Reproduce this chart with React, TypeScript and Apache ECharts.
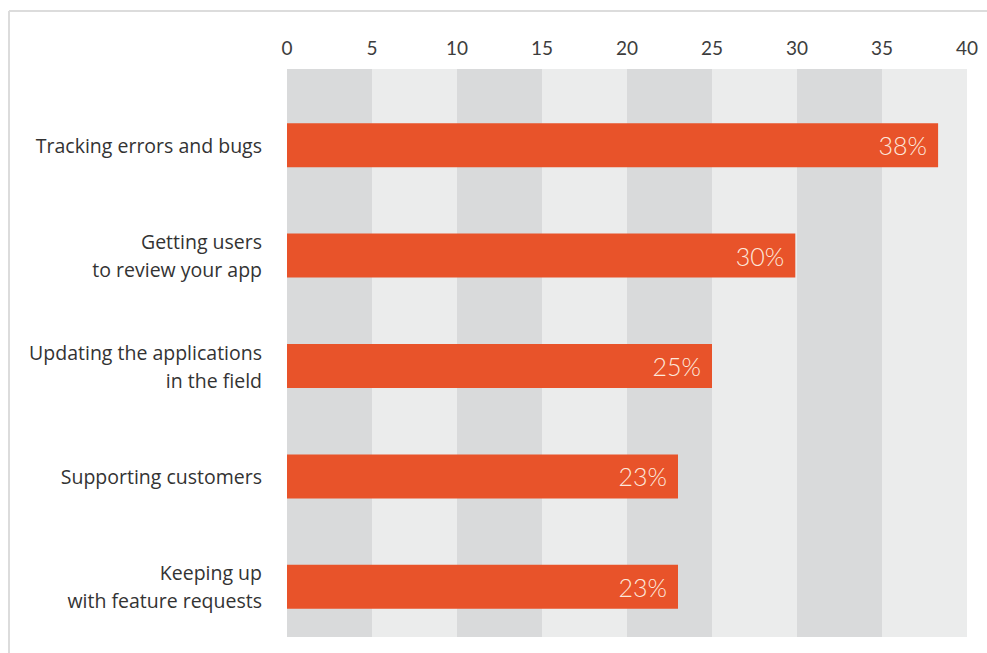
import React, { useEffect, useRef } from "react";
import * as echarts from "echarts";

const categories = [
  "Tracking errors and bugs",
  "Getting users\nto review your app",
  "Updating the applications\nin the field",
  "Supporting customers",
  "Keeping up\nwith feature requests",
];
const values = [38.3, 29.9, 25, 23, 23];
const tickMin = 0;
const tickMax = 40;
const tickStep = 5;

const FONT = "'Open Sans', Lato, sans-serif";
const NUMFONT = "Lato, 'Open Sans', sans-serif";

export default function App() {
  const ref = useRef<HTMLDivElement>(null);
  useEffect(() => {
    if (!ref.current) return;
    const chart = echarts.init(ref.current, undefined, { renderer: "svg" });
    chart.setOption({
      animation: false,
      backgroundColor: "#ffffff",
      textStyle: { fontFamily: FONT },
      graphic: [
        { type: "line", shape: { x1: 9, y1: 11, x2: 987, y2: 11 }, style: { stroke: "#dcdcdc", lineWidth: 2 } },
        { type: "line", shape: { x1: 9, y1: 11, x2: 9, y2: 653 }, style: { stroke: "#dcdcdc", lineWidth: 2 } },
      ],
      grid: [
        { left: 287, right: 20, top: 69, bottom: 16 },
        { left: 287, right: 20, top: 90, bottom: 11 },
      ],
      xAxis: [
        {
          type: "value",
          gridIndex: 0,
          position: "top",
          min: tickMin,
          max: tickMax,
          interval: tickStep,
          axisLine: { show: false },
          axisTick: { show: false },
          splitLine: { show: false },
          splitArea: { show: true, areaStyle: { color: ["#d9dadb", "#ebecec"] } },
          axisLabel: { fontSize: 19, color: "#3d3d3d", margin: 12, fontFamily: NUMFONT },
        },
        {
          type: "value",
          gridIndex: 1,
          min: tickMin,
          max: tickMax,
          show: false,
        },
      ],
      yAxis: [
        { type: "category", gridIndex: 0, data: categories, show: false },
        {
          type: "category",
          gridIndex: 1,
          data: categories,
          inverse: true,
          axisLine: { show: false },
          axisTick: { show: false },
          splitLine: { show: false },
          axisLabel: {
            fontSize: 19.5,
            color: "#333333",
            margin: 25,
            align: "right",
            lineHeight: 28,
            fontFamily: FONT,
            padding: [0, 0, 4, 0],
          },
        },
      ],
      series: [
        {
          type: "bar",
          xAxisIndex: 1,
          yAxisIndex: 1,
          data: values,
          barWidth: 44,
          itemStyle: { color: "#e8532a" },
          label: {
            show: true,
            position: "insideRight",
            distance: 11,
            color: "#fde8dc",
            fontSize: 25,
            fontWeight: 300,
            fontFamily: NUMFONT,
            formatter: (p: any) => Math.round(p.value) + "%",
          },
        },
      ],
    });
    return () => chart.dispose();
  }, []);
  return <div ref={ref} style={{ position: "fixed", left: 0, top: 0, width: 987, height: 653 }} />;
}
